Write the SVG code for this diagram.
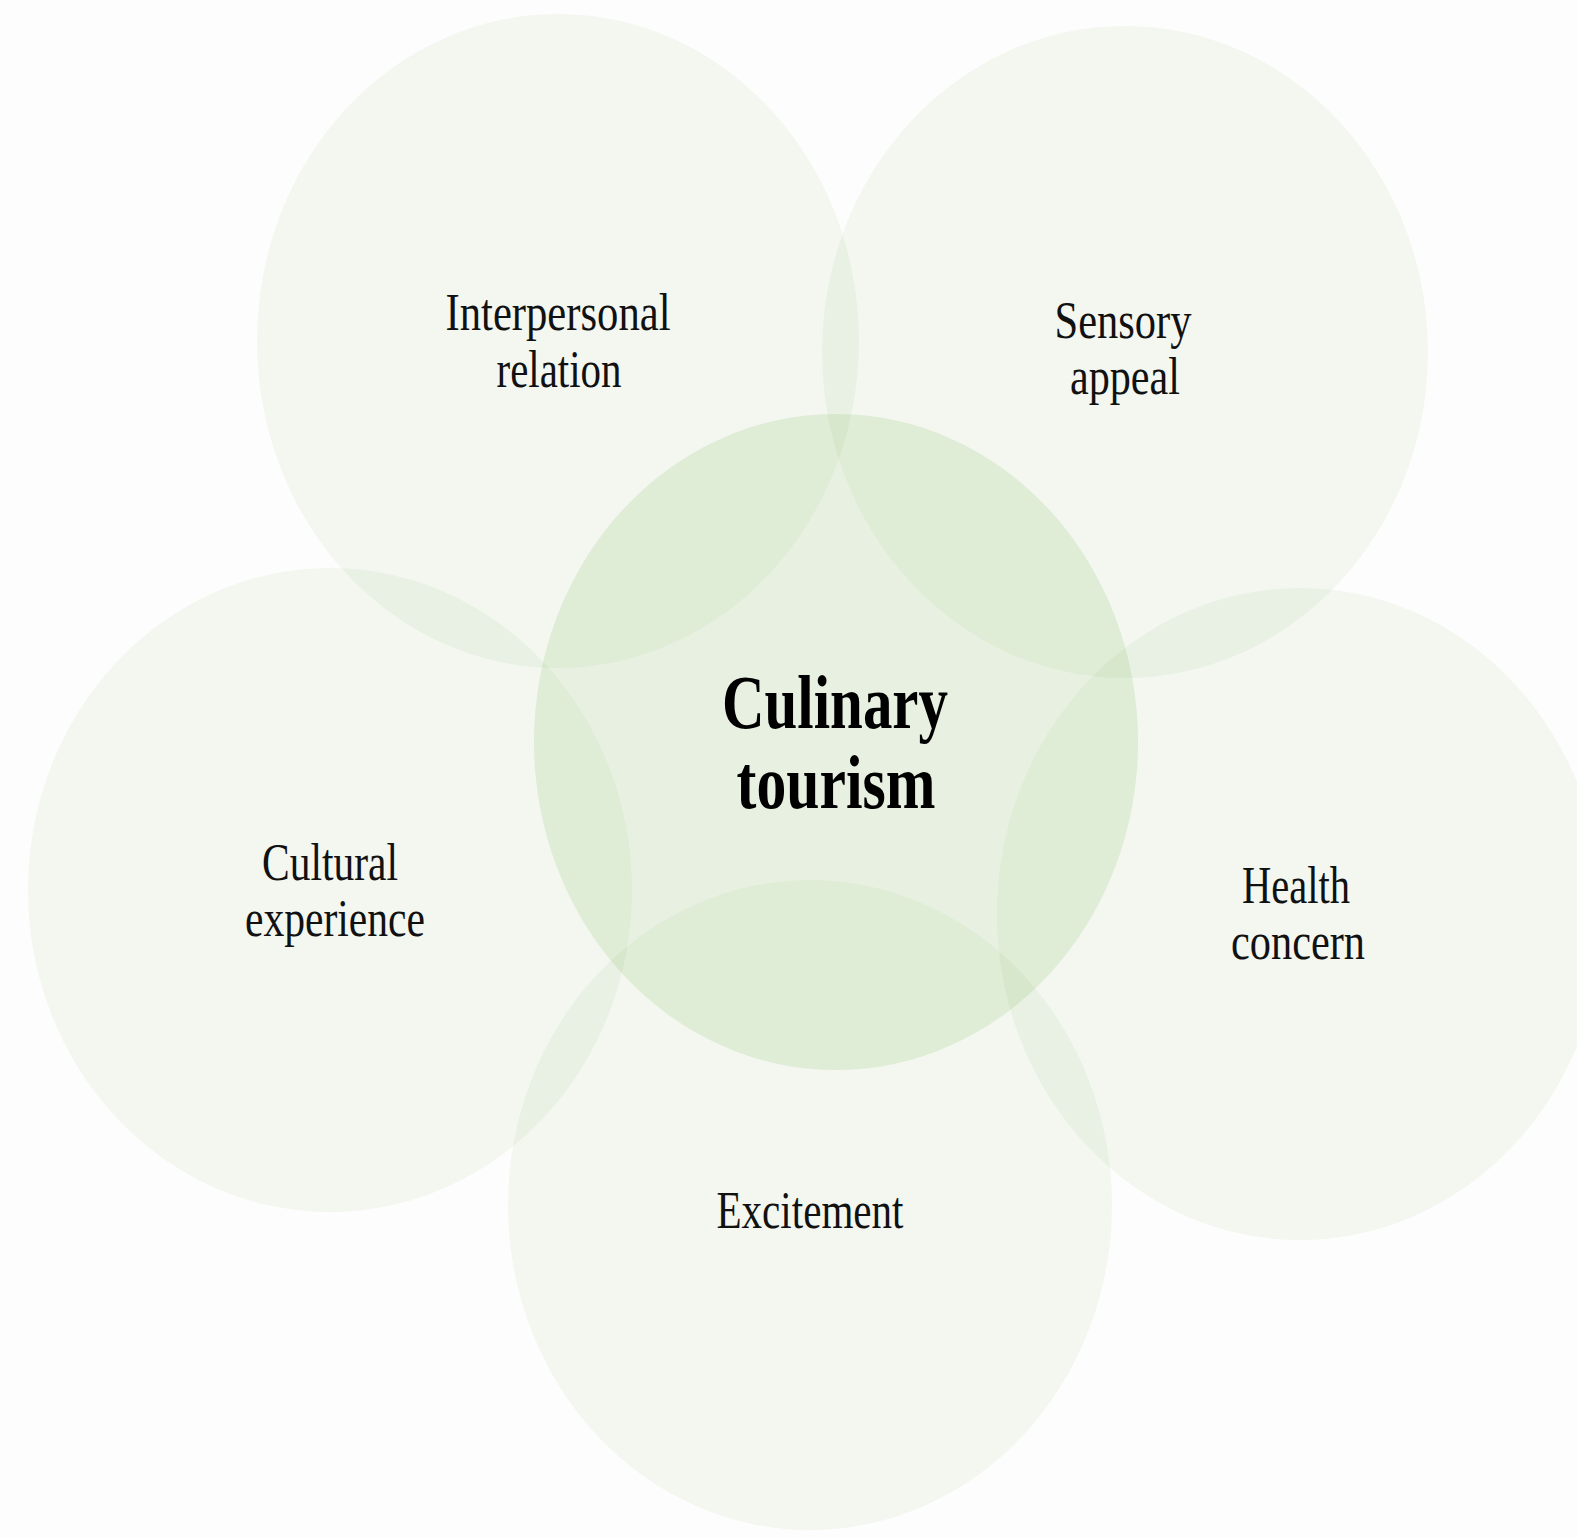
<svg xmlns="http://www.w3.org/2000/svg" width="1577" height="1538" viewBox="0 0 1577 1538">
<style>
.outer{fill:#6aa83a;fill-opacity:0.068}
.center{fill:#6aa83a;fill-opacity:0.14}
.lbl{font-family:"Liberation Serif","Times New Roman",serif;font-size:52px;fill:#111;text-anchor:middle}
.big{font-family:"Liberation Serif","Times New Roman",serif;font-size:76px;font-weight:bold;fill:#000;text-anchor:middle}
</style>
<rect width="1577" height="1538" fill="#fdfdfd"/>
<g id="interpersonal">
<ellipse class="outer" cx="558" cy="341" rx="301" ry="327"/>
<text class="lbl" x="558" y="330" textLength="225" lengthAdjust="spacingAndGlyphs">Interpersonal</text>
<text class="lbl" x="559" y="387" textLength="125" lengthAdjust="spacingAndGlyphs">relation</text>
</g>
<g id="sensory">
<ellipse class="outer" cx="1125" cy="352" rx="303" ry="326"/>
<text class="lbl" x="1123" y="338" textLength="137" lengthAdjust="spacingAndGlyphs">Sensory</text>
<text class="lbl" x="1125" y="394" textLength="110" lengthAdjust="spacingAndGlyphs">appeal</text>
</g>
<g id="cultural">
<ellipse class="outer" cx="330" cy="890" rx="302" ry="322"/>
<text class="lbl" x="330" y="880" textLength="136" lengthAdjust="spacingAndGlyphs">Cultural</text>
<text class="lbl" x="335" y="936" textLength="180" lengthAdjust="spacingAndGlyphs">experience</text>
</g>
<g id="health">
<ellipse class="outer" cx="1300" cy="914" rx="303" ry="326"/>
<text class="lbl" x="1296" y="903" textLength="108" lengthAdjust="spacingAndGlyphs">Health</text>
<text class="lbl" x="1298" y="959" textLength="134" lengthAdjust="spacingAndGlyphs">concern</text>
</g>
<g id="excitement">
<ellipse class="outer" cx="810" cy="1205" rx="302" ry="325"/>
<text class="lbl" x="810" y="1228" textLength="187" lengthAdjust="spacingAndGlyphs">Excitement</text>
</g>
<g id="culinary">
<ellipse class="center" cx="836" cy="742" rx="302" ry="328"/>
<text class="big" x="835" y="728" textLength="226" lengthAdjust="spacingAndGlyphs">Culinary</text>
<text class="big" x="836" y="808" textLength="199" lengthAdjust="spacingAndGlyphs">tourism</text>
</g>
<g id="connectors"></g>
</svg>
